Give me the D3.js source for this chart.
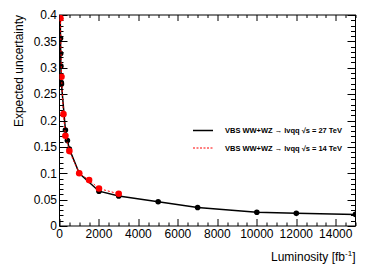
<!DOCTYPE html>
<html>
<head>
<meta charset="utf-8">
<script src="https://cdn.jsdelivr.net/npm/d3@7"></script>
<style>
	body { margin: 0; background: #fff; }
	text { font-family: "Liberation Sans", Arial, sans-serif; }
</style>
</head>
<body>
<div id="chart"></div>
<script>
"use strict";

// luminosity points [fb^-1] and expected uncertainty
var lumi27 = [20, 50, 60, 70, 90, 100, 300, 400, 500, 1000, 2000, 3000, 5000, 7000, 10000, 12000, 15000];
var unc27 = [0.45, 0.356, 0.327, 0.303, 0.272, 0.269, 0.182, 0.162, 0.146, 0.100, 0.066, 0.057, 0.046, 0.035, 0.026, 0.024, 0.022];

var lumi14 = [50, 100, 200, 300, 500, 1000, 1500, 2000, 3000];
var unc14 = [0.394, 0.283, 0.212, 0.171, 0.142, 0.100, 0.087, 0.071, 0.061];

var xTicks = [0, 2000, 4000, 6000, 8000, 10000, 12000, 14000];
var yTicks = [0, 0.05, 0.1, 0.15, 0.2, 0.25, 0.3, 0.35, 0.4];

var legendLabels = ["VBS WW+WZ \u2192 lvqq \u221As = 27 TeV", "VBS WW+WZ \u2192 lvqq \u221As = 14 TeV"];

var width = 374, height = 269;
var margin = { top: 15, right: 18.5, bottom: 43, left: 59.5 };
var w = width - margin.left - margin.right;
var h = height - margin.top - margin.bottom;

var x = d3.scaleLinear().domain([0, 15000]).range([0, w]);
var y = d3.scaleLinear().domain([0, 0.4]).range([h, 0]);

var svg = d3.select("#chart").append("svg")
	.attr("width", width)
	.attr("height", height);

var g = svg.append("g")
	.attr("transform", "translate(" + margin.left + "," + margin.top + ")");

g.append("clipPath").attr("id", "clip")
	.append("rect").attr("width", w).attr("height", h);

//
// Ticks (ROOT style, inside on all four sides)
//
var xMinor = d3.range(0, 15001, 500);
var yMinor = d3.range(0, 41, 1).map(function(d) { return d / 100; });

function isMajorX(d) { return d % 2000 === 0; }
function isMajorY(d) { return Math.round(d * 100) % 5 === 0; }

var ticks = g.append("g").attr("stroke", "#000").attr("stroke-width", 1);

ticks.selectAll(".xb").data(xMinor).enter().append("line")
	.attr("x1", function(d) { return Math.round(x(d)) + 0.5; })
	.attr("x2", function(d) { return Math.round(x(d)) + 0.5; })
	.attr("y1", h)
	.attr("y2", function(d) { return h - (isMajorX(d) ? 7 : 3.5); });

ticks.selectAll(".xt").data(xMinor).enter().append("line")
	.attr("x1", function(d) { return Math.round(x(d)) + 0.5; })
	.attr("x2", function(d) { return Math.round(x(d)) + 0.5; })
	.attr("y1", 0)
	.attr("y2", function(d) { return isMajorX(d) ? 6 : 3; });

ticks.selectAll(".yl").data(yMinor).enter().append("line")
	.attr("y1", function(d) { return Math.round(y(d)) + 0.5; })
	.attr("y2", function(d) { return Math.round(y(d)) + 0.5; })
	.attr("x1", 0)
	.attr("x2", function(d) { return isMajorY(d) ? 8 : 4; });

ticks.selectAll(".yr").data(yMinor).enter().append("line")
	.attr("y1", function(d) { return Math.round(y(d)) + 0.5; })
	.attr("y2", function(d) { return Math.round(y(d)) + 0.5; })
	.attr("x1", w)
	.attr("x2", function(d) { return w - (isMajorY(d) ? 8 : 4.5); });

// frame
g.append("rect")
	.attr("x", 0).attr("y", 0)
	.attr("width", w).attr("height", h)
	.attr("fill", "none")
	.attr("stroke", "#000")
	.attr("stroke-width", 1);

//
// Tick labels
//
g.selectAll(".xlab").data(xTicks).enter().append("text")
	.attr("x", function(d) { return x(d); })
	.attr("y", h + 11.5)
	.attr("text-anchor", "middle")
	.attr("font-size", "12px")
	.text(function(d) { return d; });

g.selectAll(".ylab").data(yTicks).enter().append("text")
	.attr("x", -2.5)
	.attr("y", function(d) { return y(d) + 4.3; })
	.attr("text-anchor", "end")
	.attr("font-size", "12px")
	.text(function(d) { return d3.format("")(+d.toFixed(2)); });

//
// Axis titles
//
var xt = svg.append("text")
	.attr("x", margin.left + w)
	.attr("y", 261)
	.attr("text-anchor", "end")
	.attr("font-size", "12px");
xt.append("tspan").text("Luminosity [fb");
xt.append("tspan").attr("font-size", "8px").attr("dy", -5).text("-1");
xt.append("tspan").attr("dy", 5).text("]");

svg.append("text")
	.attr("transform", "translate(22.5," + margin.top + ") rotate(-90)")
	.attr("text-anchor", "end")
	.attr("font-size", "12px")
	.text("Expected uncertainty");

//
// Series
//
var plot = g.append("g").attr("clip-path", "url(#clip)");

var line = d3.line()
	.x(function(d) { return x(d[0]); })
	.y(function(d) { return y(d[1]); });

var s27 = d3.zip(lumi27, unc27);
var s14 = d3.zip(lumi14, unc14);

plot.append("path").datum(s27)
	.attr("d", line)
	.attr("fill", "none")
	.attr("stroke", "#000")
	.attr("stroke-width", 1.5);

plot.selectAll(".p27").data(s27).enter().append("circle")
	.attr("cx", function(d) { return x(d[0]); })
	.attr("cy", function(d) { return y(d[1]); })
	.attr("r", 2.8)
	.attr("fill", "#000");

plot.append("path").datum(s14)
	.attr("d", line)
	.attr("fill", "none")
	.attr("stroke", "#ff0000")
	.attr("stroke-width", 1)
	.attr("stroke-dasharray", "2,2");

plot.selectAll(".p14").data(s14).enter().append("circle")
	.attr("cx", function(d) { return x(d[0]); })
	.attr("cy", function(d) { return y(d[1]); })
	.attr("r", 3.3)
	.attr("fill", "#ff0000");

//
// Legend
//
var legend = svg.append("g");
var legendStyles = [
	{ color: "#000", width: 1.5, dash: null },
	{ color: "#ff0000", width: 1, dash: "2,1.5" }
];
var legendY = [130.5, 148];

legendLabels.forEach(function(label, i) {
	legend.append("line")
		.attr("x1", 193).attr("x2", 213)
		.attr("y1", legendY[i]).attr("y2", legendY[i])
		.attr("stroke", legendStyles[i].color)
		.attr("stroke-width", legendStyles[i].width)
		.attr("stroke-dasharray", legendStyles[i].dash);
	legend.append("text")
		.attr("x", 225)
		.attr("y", legendY[i] + 2.6)
		.attr("font-size", "7.5px")
		.attr("font-weight", "bold")
		.attr("textLength", 117)
		.attr("lengthAdjust", "spacing")
		.text(label);
});
</script>
</body>
</html>
